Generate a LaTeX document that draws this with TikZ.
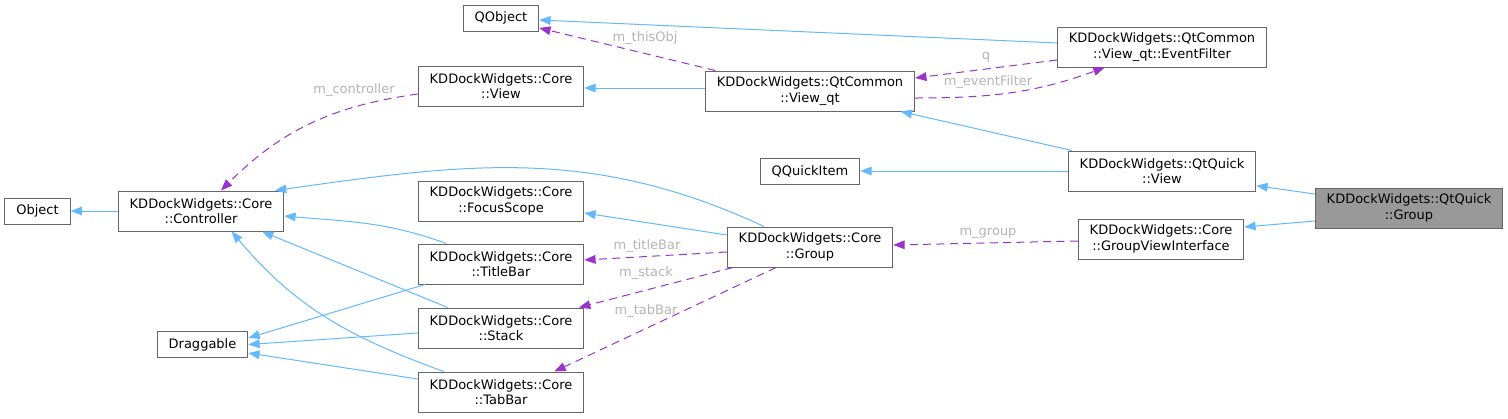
\documentclass[tikz,border=0pt]{standalone}
\usepackage{fontspec}
\setmainfont{DejaVu Sans}
\usetikzlibrary{arrows.meta}

\definecolor{edgeblue}{HTML}{63B8FF}
\definecolor{edgepurple}{HTML}{9A32CD}
\definecolor{boxline}{HTML}{666666}
\definecolor{labelgray}{HTML}{B4B4B4}
\definecolor{curfill}{HTML}{999999}

\tikzset{
  cls/.style={draw=boxline,line width=0.75pt,fill=white,align=center,
    font=\fontsize{9.75}{11.5}\selectfont,inner xsep=8.6pt,inner ysep=3.4pt,
    minimum height=19.5pt},
  cls2/.style={cls,minimum height=30pt},
  inh/.style={draw=edgeblue,line width=0.75pt,-{Triangle[length=8.5pt,width=6.5pt]}},
  member/.style={draw=edgepurple,line width=0.75pt,dash pattern=on 6pt off 4pt,
    -{Triangle[length=8.5pt,width=6.5pt]}},
  lbl/.style={text=labelgray,font=\fontsize{9.75}{11.5}\selectfont,inner sep=0pt},
}

\begin{document}
\begin{tikzpicture}[x=0.75pt,y=-0.75pt]
  \useasboundingbox (0,0) rectangle (1508,418);
  \node[cls] (object) at (37.5,211) {Object};
  \node[cls2] (ctrl) at (201,211) {KDDockWidgets::Core\\::Controller};
  \node[cls] (drag) at (202.5,344.5) {Draggable};
  \node[cls] (qobject) at (501,18) {QObject};
  \node[cls2] (coreview) at (501,86) {KDDockWidgets::Core\\::View};
  \node[cls2] (focus) at (501,201) {KDDockWidgets::Core\\::FocusScope};
  \node[cls2] (titlebar) at (501,264) {KDDockWidgets::Core\\::TitleBar};
  \node[cls2] (stack) at (501,328) {KDDockWidgets::Core\\::Stack};
  \node[cls2] (tabbar) at (501,392) {KDDockWidgets::Core\\::TabBar};
  \node[cls2] (viewqt) at (810,91) {KDDockWidgets::QtCommon\\::View\_qt};
  \node[cls] (qitem) at (810,171) {QQuickItem};
  \node[cls2] (group) at (810,247) {KDDockWidgets::Core\\::Group};
  \node[cls2] (evfilter) at (1162,47) {KDDockWidgets::QtCommon\\::View\_qt::EventFilter};
  \node[cls2] (qview) at (1162,171) {KDDockWidgets::QtQuick\\::View};
  \node[cls2] (gvi) at (1161,239) {KDDockWidgets::Core\\::GroupViewInterface};
  \node[cls2,fill=curfill] (qgroup) at (1409,208) {KDDockWidgets::QtQuick\\::Group};

  \node[lbl] (lcontroller) at (354,90) {m\_controller};
  \node[lbl] (lthisobj) at (645,38) {m\_thisObj};
  \node[lbl] (lq) at (986,57) {q};
  \node[lbl] (levfilter) at (988,82) {m\_eventFilter};
  \node[lbl] (ltitlebar) at (647,246) {m\_titleBar};
  \node[lbl] (lstack) at (646,273) {m\_stack};
  \node[lbl] (ltabbar) at (646,311) {m\_tabBar};
  \node[lbl] (lgroup) at (988,233) {m\_group};

  \draw[inh] (ctrl.west) -- (object.east);
  \draw[inh] ([yshift=2.25pt]viewqt.west) -- ([yshift=-1.5pt]coreview.east);
  \draw[inh] ([yshift=3pt]evfilter.west) -- ([yshift=-1.5pt]qobject.east);
  \draw[member] ([xshift=-71pt]viewqt.north) -- ([yshift=-7.5pt]qobject.east);
  \draw[member] ([yshift=-9.75pt]evfilter.west) -- ([yshift=9.75pt]viewqt.east);
  \draw[member] ([yshift=-5.25pt]viewqt.east) to[out=0,in=200] ([xshift=-43pt]evfilter.south);
  \draw[inh] ([xshift=-67.5pt]qview.north) -- ([xshift=68pt]viewqt.south);
  \draw[inh] (qview.west) -- (qitem.east);
  \draw[inh] ([yshift=10.5pt]qgroup.west) -- ([yshift=-11pt]qview.east);
  \draw[inh] ([yshift=-9.75pt]qgroup.west) -- ([yshift=9pt]gvi.east);
  \draw[member] ([yshift=-1.5pt]gvi.west) -- ([yshift=1.5pt]group.east);
  \draw[member] ([yshift=-6pt]coreview.west) to[out=188,in=45] ([xshift=15pt]ctrl.north);
  \draw[inh] ([xshift=-34.5pt]group.north) to[out=155,in=8] ([xshift=-7pt]ctrl.north east);
  \draw[inh] ([yshift=9pt]group.west) -- ([yshift=-9pt]focus.east);
  \draw[member] ([yshift=-3.75pt]group.west) -- ([yshift=3pt]titlebar.east);
  \draw[member] ([xshift=-57.75pt]group.south) -- ([xshift=58.5pt]stack.north);
  \draw[member] ([xshift=-25.5pt]group.south) -- ([xshift=40pt]tabbar.north);
  \draw[inh] ([xshift=-41pt]titlebar.north) to[out=160,in=-5] ([yshift=-3.75pt]ctrl.east);
  \draw[inh] ([xshift=-40pt]stack.north) -- ([xshift=45.75pt]ctrl.south);
  \draw[inh] ([xshift=-43pt]tabbar.north) to[out=160,in=-50] ([xshift=23pt]ctrl.south);
  \draw[inh] ([xshift=-57pt]titlebar.south) -- ([yshift=4.9pt]drag.east);
  \draw[inh] ([yshift=-3.75pt]stack.west) -- (drag.east);
  \draw[inh] ([yshift=9.75pt]tabbar.west) -- ([yshift=-6.4pt]drag.east);
\end{tikzpicture}
\end{document}
